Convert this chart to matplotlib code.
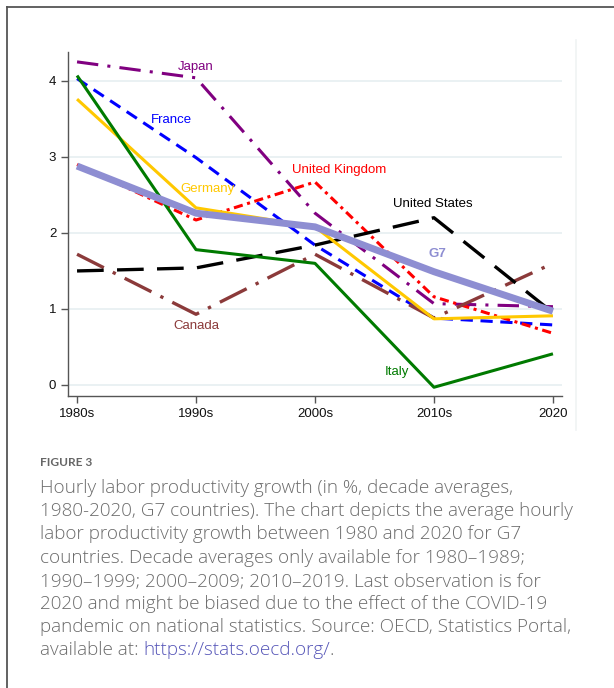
import matplotlib
matplotlib.use("Agg")
import matplotlib.pyplot as plt
from matplotlib.lines import Line2D

decades = ["1980s", "1990s", "2000s", "2010s", "2020"]
japan = [4.25, 4.04, 2.26, 1.07, 1.03]
france = [4.03, 2.99, 1.84, 0.88, 0.79]
germany = [3.76, 2.33, 2.08, 0.87, 0.91]
uk = [2.90, 2.17, 2.67, 1.16, 0.68]
italy = [4.07, 1.78, 1.60, -0.03, 0.41]
usa = [1.50, 1.54, 1.84, 2.20, 0.95]
canada = [1.72, 0.93, 1.72, 0.88, 1.60]
g7 = [2.88, 2.26, 2.08, 1.49, 0.97]

W, H = 614, 688
fig = plt.figure(figsize=(W / 100, H / 100), dpi=100)
fig.patch.set_facecolor("white")

ax = fig.add_axes([68 / W, 1 - 396 / H, (562 - 68) / W, (396 - 52) / H])
x = list(range(len(decades)))

series = [
    (japan, "#800080", (0, (7, 3, 1, 3)), 2.2, "Japan"),
    (france, "#0000ff", (0, (4, 2.5)), 2.2, "France"),
    (uk, "#ff0000", (0, (3, 1.5, 1, 1.5)), 2.2, "United Kingdom"),
    (canada, "#8b3a3a", (0, (9, 3, 1, 3)), 2.4, "Canada"),
    (usa, "#000000", (0, (8, 4)), 2.4, "United States"),
    (germany, "#ffc800", "-", 2.2, "Germany"),
    (italy, "#007a00", "-", 2.2, "Italy"),
    (g7, "#8e8ed2", "-", 5.0, "G7"),
]
for vals, col, ls, lw, name in series:
    ax.plot(x, vals, color=col, linestyle=ls, linewidth=lw, solid_capstyle="butt")

ax.set_xlim(-0.076, 4.076)
ax.set_ylim(-0.145, 4.38)
ax.set_xticks(x)
ax.set_xticklabels(decades)
ax.set_yticks([0, 1, 2, 3, 4])
ax.yaxis.grid(True, color="#e6eff1", linewidth=1.2)
ax.set_axisbelow(True)
for s in ["top", "right"]:
    ax.spines[s].set_visible(False)
for s in ["left", "bottom"]:
    ax.spines[s].set_color("#555555")
    ax.spines[s].set_linewidth(1.0)
ax.tick_params(axis="both", colors="#555555", length=5, width=1,
               labelcolor="#111111", labelsize=9.5)
for lab in ax.get_xticklabels() + ax.get_yticklabels():
    lab.set_family("Liberation Sans")

def px(xp, yp):
    return ((xp - 77) / 119.0, (385 - yp) / 76.0)

labels = [
    ("Japan", 196, 67, "#800080", "normal"),
    ("France", 171, 120, "#0000ff", "normal"),
    ("United Kingdom", 339, 170, "#ff0000", "normal"),
    ("Germany", 207, 189, "#ffc800", "normal"),
    ("United States", 433, 204, "#000000", "normal"),
    ("G7", 437, 254, "#8e8ed2", "bold"),
    ("Canada", 196, 326, "#8b3a3a", "normal"),
    ("Italy", 397, 372, "#007a00", "normal"),
]
for t, xp, yp, col, wt in labels:
    xx, yy = px(xp, yp)
    ax.text(xx, yy, t, color=col, fontsize=9.5, fontweight=wt,
            family="Liberation Sans", ha="center", va="center")

# faint graph-region line
fig.add_artist(Line2D([576 / W, 576 / W], [1 - 40 / H, 1 - 430 / H],
                      transform=fig.transFigure, color="#f0f3f4", lw=1.2))

# outer frame (top and left)
fig.add_artist(Line2D([7 / W, 1.0], [1 - 7 / H, 1 - 7 / H],
                      transform=fig.transFigure, color="#555555", lw=1.3))
fig.add_artist(Line2D([7 / W, 7 / W], [1 - 7 / H, 0.0],
                      transform=fig.transFigure, color="#555555", lw=1.3))

cap_x = 40 / W
fig.text(cap_x, 1 - 463 / H, "FIGURE 3", fontsize=8.6, color="#666666",
         family="Lato", fontweight="bold", va="center")
cap_lines = [
    "Hourly labor productivity growth (in %, decade averages,",
    "1980-2020, G7 countries). The chart depicts the average hourly",
    "labor productivity growth between 1980 and 2020 for G7",
    "countries. Decade averages only available for 1980\u20131989;",
    "1990\u20131999; 2000\u20132009; 2010\u20132019. Last observation is for",
    "2020 and might be biased due to the effect of the COVID-19",
    "pandemic on national statistics. Source: OECD, Statistics Portal,",
]
FS = 13.6
FAM = "Open Sans"
y0 = 488
for i, line in enumerate(cap_lines):
    fig.text(cap_x, 1 - (y0 + i * 23.2) / H, line, fontsize=FS,
             color="#6b6b6b", family=FAM, fontweight="light", va="center")
yl = 1 - (y0 + 7 * 23.2) / H
t1 = fig.text(cap_x, yl, "available at:", fontsize=FS, color="#6b6b6b",
              family=FAM, fontweight="light", va="center")
fig.canvas.draw()
bb = t1.get_window_extent()
x2 = (bb.x1 + 5) / W
t2 = fig.text(x2, yl, "https://stats.oecd.org/", fontsize=FS,
              color="#5656b8", family=FAM, fontweight="light", va="center")
fig.canvas.draw()
bb2 = t2.get_window_extent()
fig.text((bb2.x1 - 1) / W, yl, ".", fontsize=FS, color="#6b6b6b",
         family=FAM, fontweight="light", va="center")

fig.savefig("out.png", dpi=100)
